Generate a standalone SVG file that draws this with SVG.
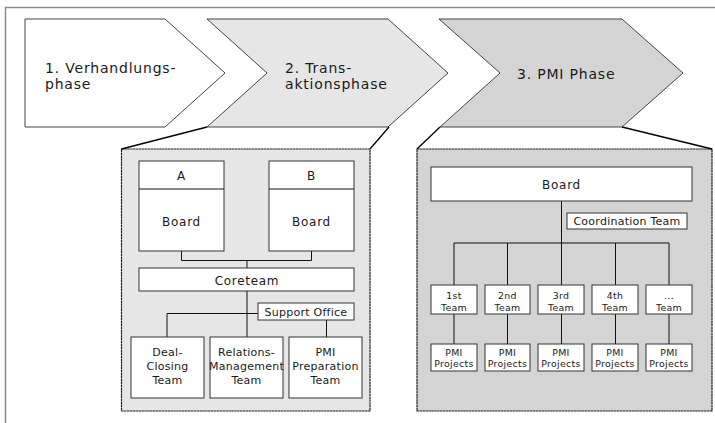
<svg xmlns="http://www.w3.org/2000/svg" width="715" height="423" viewBox="0 0 715 423">
<style>
.t{font-family:"DejaVu Sans",sans-serif;fill:#1a1a1a;text-anchor:middle}
.big{font-size:14px;letter-spacing:0.8px;text-anchor:start}
.m{font-size:12px;letter-spacing:0.7px}
.s{font-size:11px;letter-spacing:0.25px}
.xs{font-size:9.4px;letter-spacing:0.3px}
.chev{stroke:#444;stroke-width:1}
.panel{stroke:#222;stroke-width:1.2;stroke-dasharray:2.5 0.4}
.box{fill:#fff;stroke:#333;stroke-width:1}
.ln{fill:none;stroke:#111;stroke-width:1}
.zoom{fill:none;stroke:#000;stroke-width:1.3}
</style>
<rect x="5.5" y="7.5" width="730" height="430" fill="#fff" stroke="#8a8a8a" stroke-width="1.5"/>

<g id="phase1">
<polygon class="chev" points="25,19 165,19 225,73 165,127 25,127" fill="#fff"/>
<text class="t big" x="45" y="73">1. Verhandlungs-</text>
<text class="t big" x="45" y="89">phase</text>
</g>
<g id="phase2">
<polygon class="chev" points="207,19 388,19 448,73 388,127 207,127 267,73" fill="#e6e6e6"/>
<text class="t big" x="285" y="73">2. Trans-</text>
<text class="t big" x="285" y="89">aktionsphase</text>
</g>
<g id="phase3">
<polygon class="chev" points="439,19 622,19 683,73 622,127 440,127 500,73" fill="#d4d4d4"/>
<text class="t big" x="517" y="79">3. PMI Phase</text>
</g>

<g id="panel1">
<rect class="panel" x="121.5" y="149" width="248.5" height="262" fill="#e6e6e6"/>
</g>
<g id="panel2">
<rect class="panel" x="417" y="149" width="295" height="262" fill="#d4d4d4"/>
</g>

<g id="connectors">
<polyline class="zoom" points="121.5,149 207,127"/>
<polyline class="zoom" points="370,149 389,127"/>
<polyline class="zoom" points="417,149 440,127"/>
<polyline class="zoom" points="712,149 622,127"/>
<polyline class="ln" points="181.5,251 181.5,260.5 311.5,260.5 311.5,251"/>
<line class="ln" x1="247" y1="260.5" x2="247" y2="268"/>
<line class="ln" x1="247" y1="291" x2="247" y2="337"/>
<polyline class="ln" points="258,313.5 167,313.5 167,337"/>
<line class="ln" x1="326.5" y1="320" x2="326.5" y2="337"/>
<line class="ln" x1="561.5" y1="201" x2="561.5" y2="243"/>
<line class="ln" x1="454" y1="243" x2="669" y2="243"/>
<line class="ln" x1="454" y1="243" x2="454" y2="285"/>
<line class="ln" x1="507.5" y1="243" x2="507.5" y2="285"/>
<line class="ln" x1="561.5" y1="243" x2="561.5" y2="285"/>
<line class="ln" x1="615.5" y1="243" x2="615.5" y2="285"/>
<line class="ln" x1="669" y1="243" x2="669" y2="285"/>
<line class="ln" x1="454" y1="314" x2="454" y2="344"/>
<line class="ln" x1="507.5" y1="314" x2="507.5" y2="344"/>
<line class="ln" x1="561.5" y1="314" x2="561.5" y2="344"/>
<line class="ln" x1="615.5" y1="314" x2="615.5" y2="344"/>
<line class="ln" x1="669" y1="314" x2="669" y2="344"/>
</g>

<g id="boardA">
<rect class="box" x="139" y="161" width="85" height="90"/>
<line class="ln" x1="139" y1="189" x2="224" y2="189"/>
<text class="t m" x="181.5" y="180">A</text>
<text class="t m" x="181.5" y="226">Board</text>
</g>
<g id="boardB">
<rect class="box" x="269" y="161" width="85" height="90"/>
<line class="ln" x1="269" y1="189" x2="354" y2="189"/>
<text class="t m" x="311.5" y="180">B</text>
<text class="t m" x="311.5" y="226">Board</text>
</g>
<g id="coreteam">
<rect class="box" x="139" y="268" width="215" height="23"/>
<text class="t m" x="247" y="284.5">Coreteam</text>
</g>
<g id="supportOffice">
<rect class="box" x="258" y="303" width="96" height="17"/>
<text class="t s" x="306" y="315.5">Support Office</text>
</g>
<g id="dealClosing">
<rect class="box" x="131" y="337" width="73" height="61"/>
<text class="t s" x="167.5" y="356">Deal-</text>
<text class="t s" x="167.5" y="370">Closing</text>
<text class="t s" x="167.5" y="384">Team</text>
</g>
<g id="relations">
<rect class="box" x="210" y="337" width="73" height="61"/>
<text class="t s" x="246.5" y="356">Relations-</text>
<text class="t s" x="246.5" y="370" letter-spacing="0">Management</text>
<text class="t s" x="246.5" y="384">Team</text>
</g>
<g id="pmiPrep">
<rect class="box" x="289" y="337" width="73" height="61"/>
<text class="t s" x="325.5" y="356">PMI</text>
<text class="t s" x="325.5" y="370">Preparation</text>
<text class="t s" x="325.5" y="384">Team</text>
</g>

<g id="board2">
<rect class="box" x="431" y="167" width="261" height="34"/>
<text class="t m" x="561.5" y="188.5">Board</text>
</g>
<g id="coordination">
<rect class="box" x="567" y="213" width="120" height="16"/>
<text class="t s" x="627" y="225">Coordination Team</text>
</g>

<g id="team1">
<rect class="box" x="431" y="285" width="46" height="29"/>
<text class="t xs" x="454" y="298.5">1st</text>
<text class="t xs" x="454" y="310.5">Team</text>
</g>
<g id="team2">
<rect class="box" x="485" y="285" width="45" height="29"/>
<text class="t xs" x="507.5" y="298.5">2nd</text>
<text class="t xs" x="507.5" y="310.5">Team</text>
</g>
<g id="team3">
<rect class="box" x="538" y="285" width="46" height="29"/>
<text class="t xs" x="561" y="298.5">3rd</text>
<text class="t xs" x="561" y="310.5">Team</text>
</g>
<g id="team4">
<rect class="box" x="592" y="285" width="46" height="29"/>
<text class="t xs" x="615" y="298.5">4th</text>
<text class="t xs" x="615" y="310.5">Team</text>
</g>
<g id="team5">
<rect class="box" x="646" y="285" width="46" height="29"/>
<text class="t xs" x="669" y="298.5">...</text>
<text class="t xs" x="669" y="310.5">Team</text>
</g>

<g id="proj1">
<rect class="box" x="431" y="344" width="46" height="27"/>
<text class="t xs" x="454" y="355.5">PMI</text>
<text class="t xs" x="454" y="367">Projects</text>
</g>
<g id="proj2">
<rect class="box" x="485" y="344" width="45" height="27"/>
<text class="t xs" x="507.5" y="355.5">PMI</text>
<text class="t xs" x="507.5" y="367">Projects</text>
</g>
<g id="proj3">
<rect class="box" x="538" y="344" width="46" height="27"/>
<text class="t xs" x="561" y="355.5">PMI</text>
<text class="t xs" x="561" y="367">Projects</text>
</g>
<g id="proj4">
<rect class="box" x="592" y="344" width="46" height="27"/>
<text class="t xs" x="615" y="355.5">PMI</text>
<text class="t xs" x="615" y="367">Projects</text>
</g>
<g id="proj5">
<rect class="box" x="646" y="344" width="46" height="27"/>
<text class="t xs" x="669" y="355.5">PMI</text>
<text class="t xs" x="669" y="367">Projects</text>
</g>
</svg>
